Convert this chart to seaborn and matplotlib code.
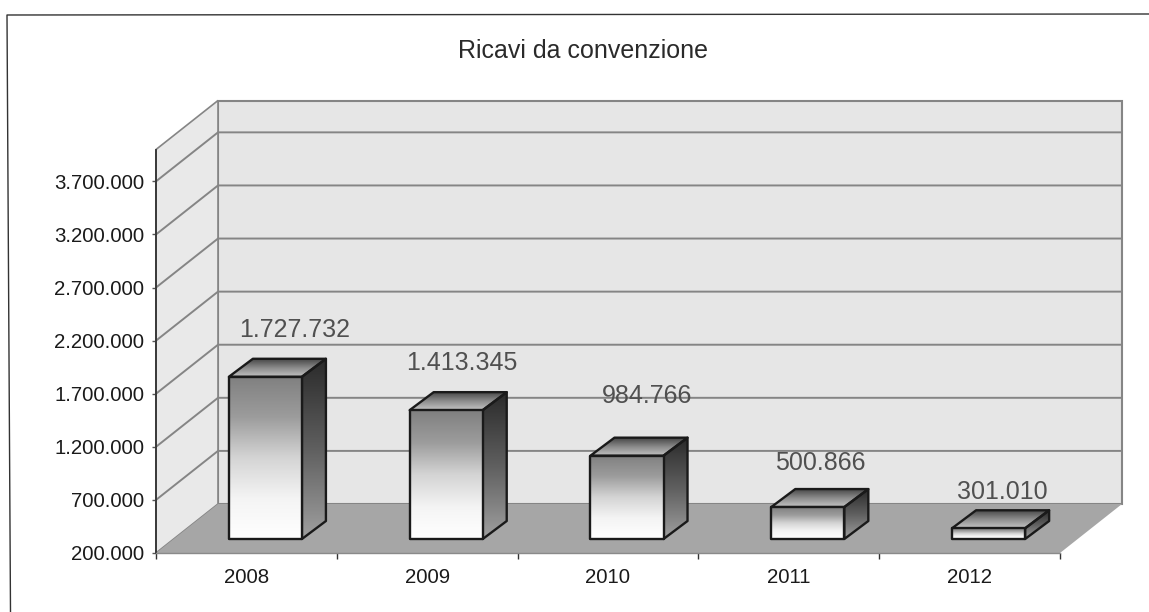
import numpy as np
import pandas as pd
import matplotlib
matplotlib.use('Agg')
import matplotlib.pyplot as plt
from matplotlib.colors import LinearSegmentedColormap
from matplotlib.lines import Line2D
from matplotlib.patches import Polygon
import seaborn as sns

# --- DATA ---
years = ['2008', '2009', '2010', '2011', '2012']
ricavi = [1727732, 1413345, 984766, 500866, 301010]
y_ticks = [200000, 700000, 1200000, 1700000, 2200000, 2700000, 3200000, 3700000]
title = 'Ricavi da convenzione'

# --- STYLE ---
sns.set_theme(style='white')
plt.rcParams['font.family'] = ['Liberation Sans', 'DejaVu Sans']

W, H = 1149, 612
Y_MIN, Y_MAX = 200000, 4000000
LEFT, RIGHT, BOTTOM, TOP = 156, 1060, 553, 149.5

fig = plt.figure(figsize=(W / 100, H / 100), dpi=100, facecolor='white')
ax = fig.add_axes([LEFT / W, 1 - BOTTOM / H, (RIGHT - LEFT) / W, (BOTTOM - TOP) / H])

df = pd.DataFrame({'anno': years, 'ricavi': ricavi})
sns.barplot(data=df, x='anno', y='ricavi', order=years, width=0.404,
            color='white', saturation=1, ax=ax, zorder=5)

ax.set_xlim(-0.5, len(years) - 0.5)
ax.set_ylim(Y_MIN, Y_MAX)

# pixels -> data units, the fake 3D is all done with these
xu = (len(years)) / (RIGHT - LEFT)
yu = (Y_MAX - Y_MIN) / (BOTTOM - TOP)
wall_dx, wall_dy = 62 * xu, 49 * yu      # depth of the chart box
shift_dx, shift_dy = 19 * xu, 14 * yu    # bars stand inside the floor
side_dx, side_dy = 24 * xu, 18 * yu      # depth of each bar

x0, x1 = ax.get_xlim()
GRID = '#858585'

# walls and floor
ax.add_patch(Polygon([(x0 + wall_dx, Y_MIN + wall_dy), (x1 + wall_dx, Y_MIN + wall_dy),
                      (x1 + wall_dx, Y_MAX + wall_dy), (x0 + wall_dx, Y_MAX + wall_dy)],
                     fc='#e6e6e6', ec=GRID, lw=1.5, clip_on=False, zorder=1))
ax.add_patch(Polygon([(x0, Y_MIN), (x0, Y_MAX), (x0 + wall_dx, Y_MAX + wall_dy),
                      (x0 + wall_dx, Y_MIN + wall_dy)],
                     fc='#e9e9e9', ec=GRID, lw=1.2, clip_on=False, zorder=1))
ax.add_patch(Polygon([(x0, Y_MIN), (x1, Y_MIN), (x1 + wall_dx, Y_MIN + wall_dy),
                      (x0 + wall_dx, Y_MIN + wall_dy)],
                     fc='#a6a6a6', ec='none', clip_on=False, zorder=2))

# grid lines on the two walls
for t in y_ticks[1:]:
    ax.plot([x0, x0 + wall_dx, x1 + wall_dx], [t, t + wall_dy, t + wall_dy],
            color=GRID, lw=1.4, clip_on=False, zorder=1.5, solid_joinstyle='miter')

front_cmap = LinearSegmentedColormap.from_list('front', ['#808080', '#9c9c9c', '#d4d4d4', '#f4f4f4', '#ffffff'])
side_cmap = LinearSegmentedColormap.from_list('side', ['#2a2a2a', '#5f5f5f', '#a0a0a0'])
top_cmap = LinearSegmentedColormap.from_list('top', ['#484848', '#8c8c8c', '#c4c4c4'])
ramp = np.linspace(0, 1, 256)[:, None]


def gradient_face(verts, cmap, z):
    """Fills a polygon with a vertical grey ramp and outlines it."""
    xs, ys = zip(*verts)
    outline = Polygon(verts, fc='none', ec='#1a1a1a', lw=1.7, joinstyle='round',
                      clip_on=False, zorder=z + 0.1)
    ax.add_patch(outline)
    im = ax.imshow(ramp, cmap=cmap, aspect='auto', vmin=0, vmax=1, zorder=z,
                   extent=(min(xs), max(xs), min(ys), max(ys)))
    im.set_clip_path(outline)


for bar, value in zip(ax.patches, ricavi):
    left = bar.get_x() + shift_dx
    right = left + bar.get_width()
    base = Y_MIN + shift_dy
    top = value + shift_dy
    bar.set_visible(False)
    gradient_face([(left, base), (right, base), (right, top), (left, top)], front_cmap, 6)
    gradient_face([(right, base), (right + side_dx, base + side_dy),
                   (right + side_dx, top + side_dy), (right, top)], side_cmap, 5.5)
    gradient_face([(left, top), (right, top), (right + side_dx, top + side_dy),
                   (left + side_dx, top + side_dy)], top_cmap, 5.5)

ax.set_xlim(x0, x1)
ax.set_ylim(Y_MIN, Y_MAX)

# value labels, these sit unevenly in the original
label_dx = [29.5, 16, 20, 12, 14]
label_dy = [47, 47, 60, 44, 36]
for i, value in enumerate(ricavi):
    ax.text(i + shift_dx + label_dx[i] * xu, value + shift_dy + label_dy[i] * yu,
            f'{value:,}'.replace(',', '.'), ha='center', va='center',
            fontsize=18, color='#505050', zorder=8, clip_on=False)

# axes
ax.set_xlabel('')
ax.set_ylabel('')
ax.set_yticks(y_ticks)
ax.set_yticklabels([f'{t:,}'.replace(',', '.') for t in y_ticks], fontsize=14.7, color='#1a1a1a')
ax.set_xticks(range(len(years)))
ax.set_xticklabels(years, fontsize=14.7, color='#1a1a1a')
ax.set_xticks(np.arange(x0, x1 + 0.5), minor=True)
ax.tick_params(axis='x', which='major', length=0, pad=11)
ax.tick_params(axis='x', which='minor', length=4, width=1, color='#333333', bottom=True)
ax.tick_params(axis='y', length=3, width=1, color='#555555', pad=5.5, left=True)
for name in ['top', 'right']:
    ax.spines[name].set_visible(False)
ax.spines['left'].set_color('#333333')
ax.spines['left'].set_linewidth(1.3)
ax.spines['bottom'].set_color('#8a8a8a')
ax.spines['bottom'].set_linewidth(1.0)
for s in ax.spines.values():
    s.set_zorder(9)
ax.patch.set_alpha(0)

fig.text(583 / W, 1 - 51 / H, title, ha='center', va='center', fontsize=18, color='#2a2a2a')

# scanned page frame, slightly skewed
fig.add_artist(Line2D([10.5 / W, 7 / W, 1], [0, 1 - 15 / H, 1 - 14 / H],
                      color='#333333', lw=1.0, transform=fig.transFigure))

plt.savefig('out.png', dpi=100)
